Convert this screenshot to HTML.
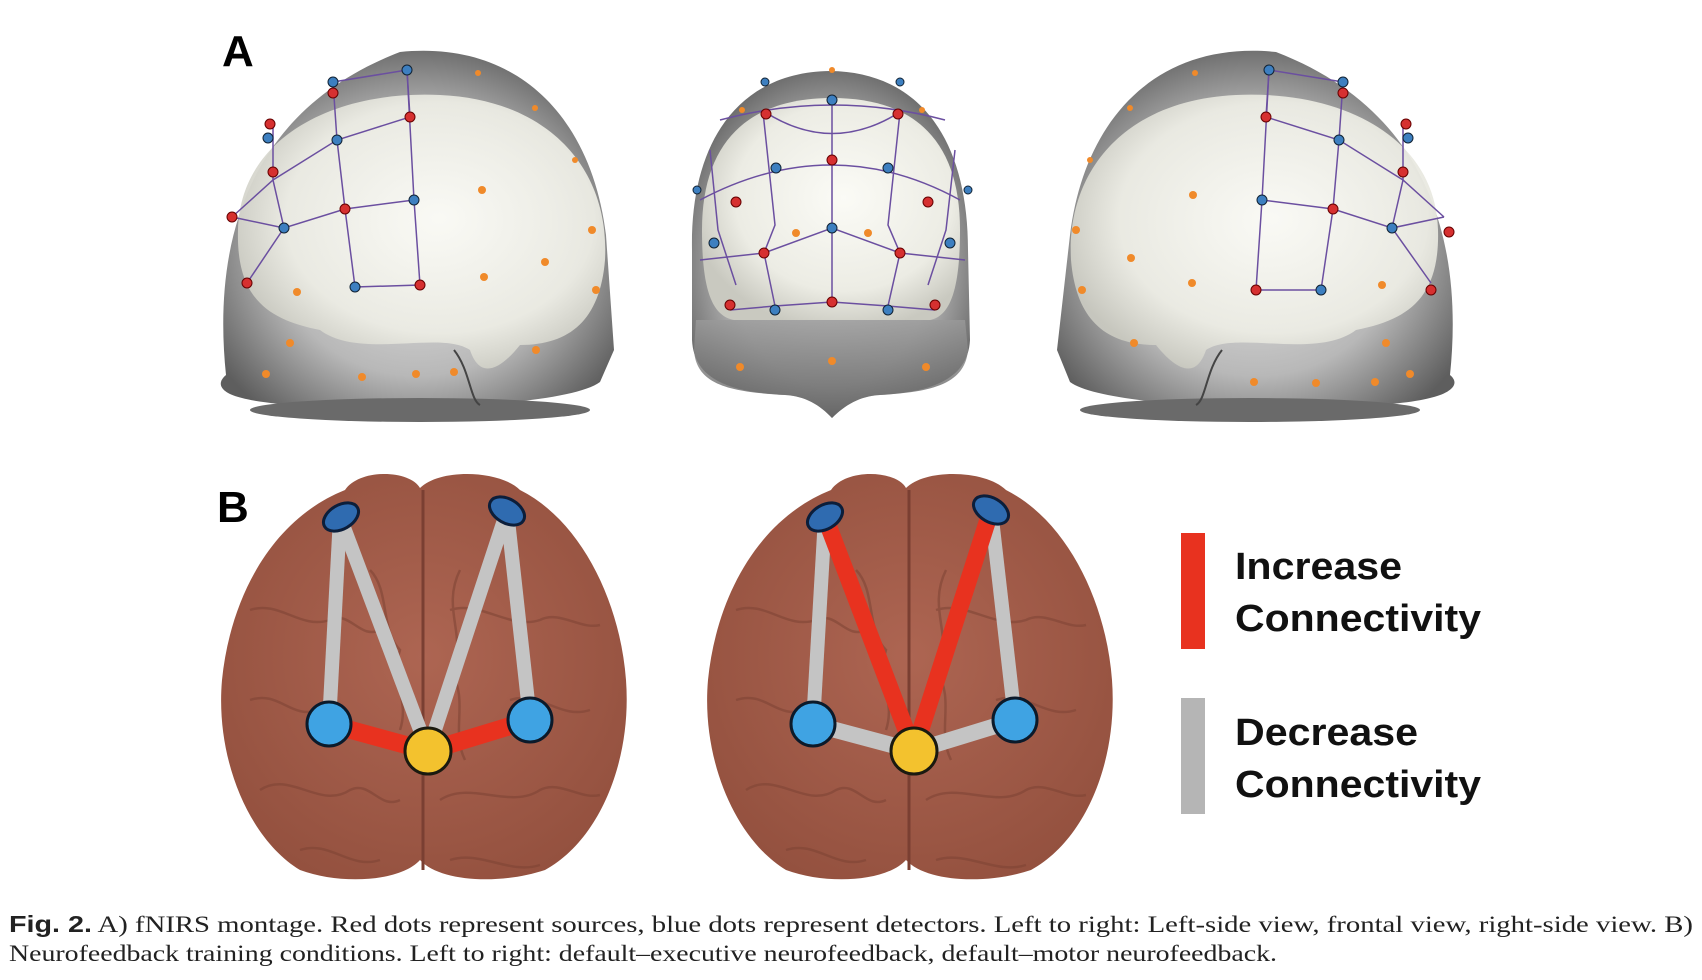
<!DOCTYPE html>
<html><head><meta charset="utf-8"><style>
html,body{margin:0;padding:0;background:#fff;}
svg{display:block;}
</style></head><body>
<svg width="1702" height="980" viewBox="0 0 1702 980" xmlns="http://www.w3.org/2000/svg">
<defs>
<radialGradient id="hg" cx="0.5" cy="0.55" r="0.6">
<stop offset="0" stop-color="#e6e6e6"/><stop offset="0.6" stop-color="#b8b8b8"/><stop offset="1" stop-color="#5e5e5e"/>
</radialGradient>
<radialGradient id="bw" cx="0.55" cy="0.45" r="0.6">
<stop offset="0" stop-color="#fbfbf6"/><stop offset="0.7" stop-color="#ecece4"/><stop offset="1" stop-color="#c9c9c0"/>
</radialGradient>
<radialGradient id="br" cx="0.5" cy="0.45" r="0.6">
<stop offset="0" stop-color="#ad6552"/><stop offset="1" stop-color="#94513f"/>
</radialGradient>
<linearGradient id="base" x1="0" y1="0" x2="0" y2="1"><stop offset="0" stop-color="#9a9a9a"/><stop offset="1" stop-color="#5a5a5a"/></linearGradient>
<g id="tex" stroke="#7d4334" stroke-width="2.5" fill="none" opacity="0.55">
<path d="M30,130 C60,120 80,150 110,140 C130,130 140,160 160,150"/>
<path d="M40,310 C70,290 100,330 130,310 C150,300 160,330 180,320"/>
<path d="M230,130 C260,120 290,150 320,140 C340,130 360,150 380,145"/>
<path d="M220,320 C250,300 290,330 320,310 C340,300 360,320 380,315"/>
<path d="M150,90 C170,110 160,150 180,170 C170,200 190,220 180,250"/>
<path d="M240,90 C220,130 250,160 230,190 C250,220 230,250 245,280"/>
<path d="M30,220 C60,210 70,240 100,230"/><path d="M290,220 C320,210 340,240 370,230"/>
<path d="M80,370 C110,360 130,390 160,380"/><path d="M230,380 C260,370 290,395 320,385"/>
</g>
</defs>
<text x="222" y="66" font-family="Liberation Sans, sans-serif" font-weight="bold" font-size="44">A</text>
<!-- Left head -->
<g>
<path d="M226,375 C214,260 236,115 400,52 C520,40 592,120 606,235 L614,350 L600,382 C560,412 300,414 242,398 C224,394 214,385 226,375 Z" fill="url(#hg)"/>
<ellipse cx="420" cy="410" rx="170" ry="12" fill="#6a6a6a"/>
<path d="M238,230 C240,140 330,90 440,95 C550,100 610,170 605,260 C600,320 570,345 520,345 C500,370 480,380 470,350 C440,330 360,360 320,330 C270,320 236,300 238,230 Z" fill="url(#bw)" opacity="0.95"/>
<path d="M454,350 C470,370 470,400 480,405" stroke="#444" stroke-width="2" fill="none"/>
<g stroke="#6b4fa0" stroke-width="1.5" fill="none">
<polyline points="333,82 407,70 410,117 337,140 273,180 232,217"/>
<polyline points="407,70 414,200 420,285 355,287"/>
<polyline points="333,82 337,140 345,209 355,287"/>
<polyline points="273,124 273,180 284,228 247,283"/>
<polyline points="232,217 284,228 345,209 414,200"/>
</g>
<g fill="#d63030" stroke="#600" stroke-width="1"><circle cx="410" cy="117" r="5"/><circle cx="333" cy="93" r="5"/><circle cx="273" cy="172" r="5"/><circle cx="345" cy="209" r="5"/><circle cx="420" cy="285" r="5"/><circle cx="247" cy="283" r="5"/><circle cx="232" cy="217" r="5"/><circle cx="270" cy="124" r="5"/></g>
<g fill="#3d7fc0" stroke="#123" stroke-width="1"><circle cx="407" cy="70" r="5"/><circle cx="333" cy="82" r="5"/><circle cx="337" cy="140" r="5"/><circle cx="414" cy="200" r="5"/><circle cx="284" cy="228" r="5"/><circle cx="355" cy="287" r="5"/><circle cx="268" cy="138" r="5"/></g>
<g fill="#f08a2a"><circle cx="482" cy="190" r="4"/><circle cx="545" cy="262" r="4"/><circle cx="484" cy="277" r="4"/><circle cx="297" cy="292" r="4"/><circle cx="536" cy="350" r="4"/><circle cx="290" cy="343" r="4"/><circle cx="362" cy="377" r="4"/><circle cx="416" cy="374" r="4"/><circle cx="454" cy="372" r="4"/><circle cx="592" cy="230" r="4"/><circle cx="596" cy="290" r="4"/><circle cx="478" cy="73" r="3"/><circle cx="535" cy="108" r="3"/><circle cx="575" cy="160" r="3"/><circle cx="266" cy="374" r="4"/></g>
</g>
<!-- Middle head -->
<g>
<path d="M692,250 C690,140 740,72 830,71 C920,72 968,140 968,250 L970,340 C968,380 930,392 880,395 C860,396 845,405 832,418 C820,405 805,396 785,395 C730,392 694,380 692,340 Z" fill="url(#hg)"/>
<path d="M696,320 L965,320 L968,350 C965,385 930,392 880,395 C860,396 845,405 832,418 C820,405 805,396 785,395 C730,392 696,385 694,350 Z" fill="url(#base)" opacity="0.8"/>
<path d="M702,230 C702,140 750,98 832,98 C914,98 960,140 960,230 C960,290 950,316 930,320 L734,320 C712,316 702,290 702,230 Z" fill="url(#bw)"/>
<g stroke="#6b4fa0" stroke-width="1.5" fill="none">
<path d="M720,120 Q832,90 945,120"/>
<path d="M765,112 Q832,155 900,112"/>
<path d="M700,200 Q832,130 960,200"/>
<path d="M700,260 L764,253 L832,228 L900,253 L965,260"/>
<path d="M730,310 L775,306 L832,302 L888,306 L935,310"/>
<line x1="832" y1="98" x2="832" y2="305"/>
<path d="M763,112 L775,225 L764,253 L775,306"/>
<path d="M900,112 L888,225 L900,253 L888,306"/>
<path d="M710,150 L718,230 L736,285"/><path d="M955,150 L946,230 L928,285"/>
</g>
<g fill="#d63030" stroke="#600" stroke-width="1"><circle cx="766" cy="114" r="5"/><circle cx="898" cy="114" r="5"/><circle cx="832" cy="160" r="5"/><circle cx="736" cy="202" r="5"/><circle cx="928" cy="202" r="5"/><circle cx="764" cy="253" r="5"/><circle cx="900" cy="253" r="5"/><circle cx="730" cy="305" r="5"/><circle cx="832" cy="302" r="5"/><circle cx="935" cy="305" r="5"/></g>
<g fill="#3d7fc0" stroke="#123" stroke-width="1"><circle cx="832" cy="100" r="5"/><circle cx="765" cy="82" r="4"/><circle cx="900" cy="82" r="4"/><circle cx="776" cy="168" r="5"/><circle cx="888" cy="168" r="5"/><circle cx="832" cy="228" r="5"/><circle cx="714" cy="243" r="5"/><circle cx="950" cy="243" r="5"/><circle cx="775" cy="310" r="5"/><circle cx="888" cy="310" r="5"/><circle cx="697" cy="190" r="4"/><circle cx="968" cy="190" r="4"/></g>
<g fill="#f08a2a"><circle cx="796" cy="233" r="4"/><circle cx="868" cy="233" r="4"/><circle cx="740" cy="367" r="4"/><circle cx="832" cy="361" r="4"/><circle cx="926" cy="367" r="4"/><circle cx="742" cy="110" r="3"/><circle cx="922" cy="110" r="3"/><circle cx="832" cy="70" r="3"/></g>
</g>
<!-- Right head -->
<g>
<path d="M1450,375 C1462,260 1440,115 1276,52 C1156,40 1084,120 1070,235 L1057,350 L1070,382 C1110,412 1370,414 1430,398 C1448,394 1462,385 1450,375 Z" fill="url(#hg)"/>
<ellipse cx="1250" cy="410" rx="170" ry="12" fill="#6a6a6a"/>
<path d="M1438,230 C1436,140 1346,90 1236,95 C1126,100 1066,170 1071,260 C1076,320 1106,345 1156,345 C1176,370 1196,380 1206,350 C1236,330 1316,360 1356,330 C1406,320 1440,300 1438,230 Z" fill="url(#bw)" opacity="0.95"/>
<path d="M1222,350 C1206,370 1206,400 1196,405" stroke="#444" stroke-width="2" fill="none"/>
<g stroke="#6b4fa0" stroke-width="1.5" fill="none">
<polyline points="1343,82 1269,70 1266,117 1339,140 1403,180 1444,217"/>
<polyline points="1269,70 1262,200 1256,290 1321,290"/>
<polyline points="1343,82 1339,140 1333,209 1321,290"/>
<polyline points="1403,124 1403,180 1392,228 1431,283"/>
<polyline points="1444,217 1392,228 1333,209 1262,200"/>
</g>
<g fill="#d63030" stroke="#600" stroke-width="1"><circle cx="1266" cy="117" r="5"/><circle cx="1343" cy="93" r="5"/><circle cx="1403" cy="172" r="5"/><circle cx="1333" cy="209" r="5"/><circle cx="1256" cy="290" r="5"/><circle cx="1431" cy="290" r="5"/><circle cx="1449" cy="232" r="5"/><circle cx="1406" cy="124" r="5"/></g>
<g fill="#3d7fc0" stroke="#123" stroke-width="1"><circle cx="1269" cy="70" r="5"/><circle cx="1343" cy="82" r="5"/><circle cx="1339" cy="140" r="5"/><circle cx="1262" cy="200" r="5"/><circle cx="1392" cy="228" r="5"/><circle cx="1321" cy="290" r="5"/><circle cx="1408" cy="138" r="5"/></g>
<g fill="#f08a2a"><circle cx="1193" cy="195" r="4"/><circle cx="1131" cy="258" r="4"/><circle cx="1192" cy="283" r="4"/><circle cx="1382" cy="285" r="4"/><circle cx="1134" cy="343" r="4"/><circle cx="1386" cy="343" r="4"/><circle cx="1254" cy="382" r="4"/><circle cx="1316" cy="383" r="4"/><circle cx="1375" cy="382" r="4"/><circle cx="1076" cy="230" r="4"/><circle cx="1082" cy="290" r="4"/><circle cx="1195" cy="73" r="3"/><circle cx="1130" cy="108" r="3"/><circle cx="1090" cy="160" r="3"/><circle cx="1410" cy="374" r="4"/></g>
</g>

<text x="217" y="522" font-family="Liberation Sans, sans-serif" font-weight="bold" font-size="44">B</text>
<!-- Brain B left -->
<g>
<path d="M420,488 C410,470 360,468 345,490 C270,520 230,600 222,680 C215,760 250,840 300,870 C340,885 400,882 420,860 C440,882 500,885 545,870 C600,840 632,760 626,680 C620,600 580,520 520,490 C500,470 440,468 420,488 Z" fill="url(#br)"/>
<use href="#tex" x="220" y="480"/>
<line x1="423" y1="490" x2="423" y2="870" stroke="#7a3f32" stroke-width="3"/>
<g fill="none">
<line x1="340" y1="517" x2="329" y2="724" stroke="#c4c4c4" stroke-width="14"/>
<line x1="340" y1="517" x2="428" y2="751" stroke="#c4c4c4" stroke-width="14"/>
<line x1="507" y1="511" x2="428" y2="751" stroke="#c4c4c4" stroke-width="14"/>
<line x1="507" y1="511" x2="530" y2="720" stroke="#c4c4c4" stroke-width="14"/>
<line x1="329" y1="724" x2="428" y2="751" stroke="#e8321f" stroke-width="18"/>
<line x1="428" y1="751" x2="530" y2="720" stroke="#e8321f" stroke-width="18"/>
</g>
<ellipse cx="341" cy="517" rx="19" ry="12" transform="rotate(-30 341 517)" fill="#2f6bb0" stroke="#0c1e3a" stroke-width="3"/>
<ellipse cx="507" cy="511" rx="19" ry="12" transform="rotate(30 507 511)" fill="#2f6bb0" stroke="#0c1e3a" stroke-width="3"/>
<circle cx="329" cy="724" r="22" fill="#3fa3e3" stroke="#0c1a2a" stroke-width="3"/>
<circle cx="530" cy="720" r="22" fill="#3fa3e3" stroke="#0c1a2a" stroke-width="3"/>
<circle cx="428" cy="751" r="23" fill="#f3c22e" stroke="#1a1a10" stroke-width="3"/>
</g>
<!-- Brain B right -->
<g>
<path d="M906,488 C896,470 846,468 831,490 C756,520 716,600 708,680 C701,760 736,840 786,870 C826,885 886,882 906,860 C926,882 986,885 1031,870 C1086,840 1118,760 1112,680 C1106,600 1066,520 1006,490 C986,470 926,468 906,488 Z" fill="url(#br)"/>
<use href="#tex" x="706" y="480"/>
<line x1="909" y1="490" x2="909" y2="870" stroke="#7a3f32" stroke-width="3"/>
<g fill="none">
<line x1="825" y1="517" x2="813" y2="724" stroke="#c4c4c4" stroke-width="14"/>
<line x1="991" y1="510" x2="1015" y2="720" stroke="#c4c4c4" stroke-width="14"/>
<line x1="813" y1="724" x2="914" y2="751" stroke="#c4c4c4" stroke-width="16"/>
<line x1="914" y1="751" x2="1015" y2="720" stroke="#c4c4c4" stroke-width="16"/>
<line x1="825" y1="517" x2="914" y2="751" stroke="#e8321f" stroke-width="17"/>
<line x1="991" y1="510" x2="914" y2="751" stroke="#e8321f" stroke-width="17"/>
</g>
<ellipse cx="825" cy="517" rx="19" ry="12" transform="rotate(-30 825 517)" fill="#2f6bb0" stroke="#0c1e3a" stroke-width="3"/>
<ellipse cx="991" cy="510" rx="19" ry="12" transform="rotate(30 991 510)" fill="#2f6bb0" stroke="#0c1e3a" stroke-width="3"/>
<circle cx="813" cy="724" r="22" fill="#3fa3e3" stroke="#0c1a2a" stroke-width="3"/>
<circle cx="1015" cy="720" r="22" fill="#3fa3e3" stroke="#0c1a2a" stroke-width="3"/>
<circle cx="914" cy="751" r="23" fill="#f3c22e" stroke="#1a1a10" stroke-width="3"/>
</g>
<!-- Legend -->
<rect x="1181" y="533" width="24" height="116" fill="#e8321f"/>
<rect x="1181" y="698" width="24" height="116" fill="#b5b5b5"/>
<g font-family="Liberation Sans, sans-serif" font-weight="bold" font-size="38" fill="#111" lengthAdjust="spacingAndGlyphs">
<text x="1235" y="579" textLength="167" lengthAdjust="spacingAndGlyphs">Increase</text>
<text x="1235" y="631" textLength="246" lengthAdjust="spacingAndGlyphs">Connectivity</text>
<text x="1235" y="745" textLength="183" lengthAdjust="spacingAndGlyphs">Decrease</text>
<text x="1235" y="797" textLength="246" lengthAdjust="spacingAndGlyphs">Connectivity</text>
</g>
<!-- Caption -->
<g font-family="Liberation Serif, serif" font-size="23" fill="#222">
<text x="9" y="932" textLength="1684" lengthAdjust="spacingAndGlyphs"><tspan font-weight="bold" font-family="Liberation Sans, sans-serif">Fig. 2.</tspan> A) fNIRS montage. Red dots represent sources, blue dots represent detectors. Left to right: Left-side view, frontal view, right-side view. B)</text>
<text x="9" y="961" textLength="1268" lengthAdjust="spacingAndGlyphs">Neurofeedback training conditions. Left to right: default–executive neurofeedback, default–motor neurofeedback.</text>
</g>
</svg>
</body></html>
